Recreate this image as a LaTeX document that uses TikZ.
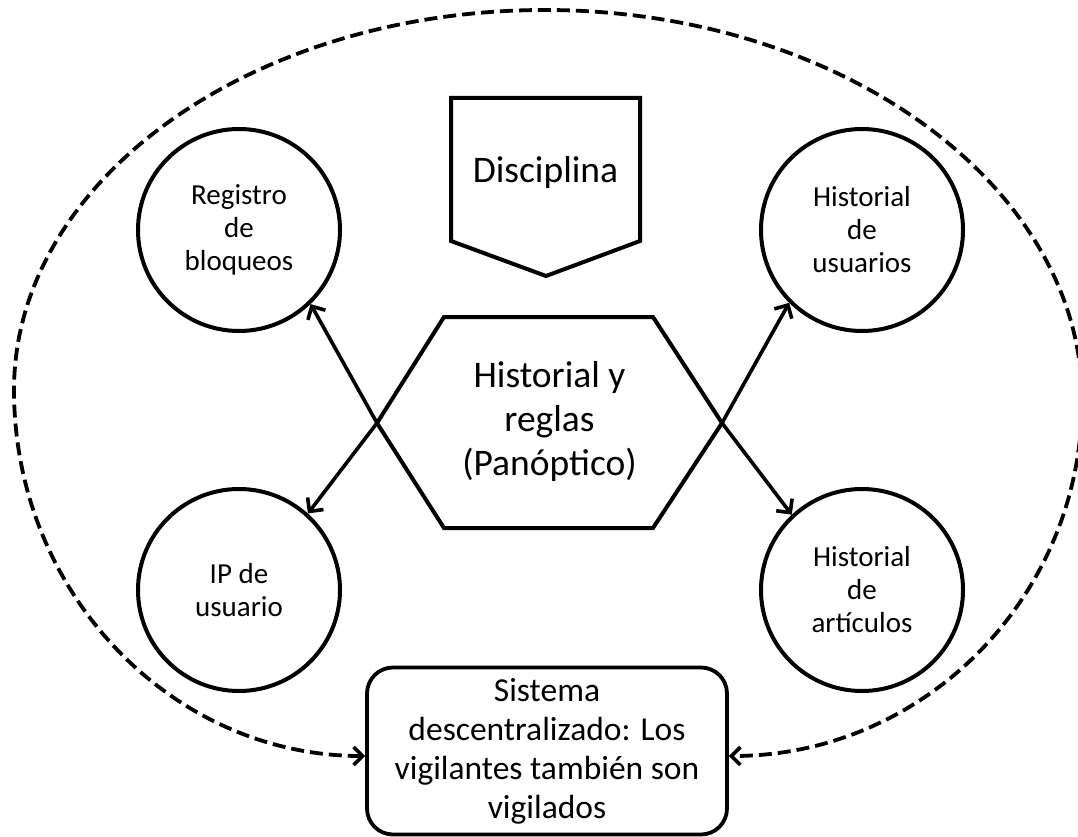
\documentclass[tikz,border=0pt]{standalone}
\usepackage{fontspec}
\setmainfont{Carlito}
\usetikzlibrary{arrows.meta,calc}
\begin{document}
\begin{tikzpicture}[x=1pt,y=-1pt,
  circ/.style={draw,circle,line width=4pt,minimum size=202pt,inner sep=0pt,align=center,
    font=\fontsize{29}{33}\selectfont},
  shapeline/.style={draw,line width=4pt,line join=miter},
  bigtext/.style={align=center,font=\fontsize{37.5}{44}\selectfont},
  boxnode/.style={draw,rectangle,rounded corners=26pt,line width=3.8pt,minimum width=360pt,
    minimum height=167pt,align=center,font=\fontsize{33.5}{39}\selectfont,inner sep=0pt},
  conn/.style={line width=3.6pt,-{Straight Barb[length=10pt,width=20pt,line width=3.6pt]}},
  dconn/.style={line width=3.8pt,dash pattern=on 13pt off 6pt,
    {Straight Barb[length=9pt,width=18pt,line width=3.6pt]}-{Straight Barb[length=9pt,width=18pt,line width=3.6pt]}}
]
\useasboundingbox (0,0) rectangle (1078,837);
\fill[white] (0,0) rectangle (1078,837);

% circles
\node[circ] (reg) at (239,230) {Registro\\de\\bloqueos};
\node[circ] (hu) at (862,230) {Historial\\de\\usuarios};
\node[circ] (ip) at (239,590) {IP de\\usuario};
\node[circ] (ha) at (862,590) {Historial\\de\\artículos};

% pentagon (Disciplina)
\coordinate (p1) at (451,98);
\coordinate (p2) at (640,98);
\coordinate (p3) at (640,241);
\coordinate (p4) at (546,276);
\coordinate (p5) at (451,241);
\draw[shapeline] (p1) -- (p2) -- (p3) -- (p4) -- (p5) -- cycle;
\node[bigtext] (disc) at (545.5,173) {Disciplina};

% hexagon
\coordinate (hL) at (377,423);
\coordinate (hTL) at (444,317);
\coordinate (hTR) at (653,317);
\coordinate (hR) at (722,423);
\coordinate (hBR) at (653,528);
\coordinate (hBL) at (444,528);
\draw[shapeline] (hL) -- (hTL) -- (hTR) -- (hR) -- (hBR) -- (hBL) -- cycle;
\node[bigtext] (hex) at (549.5,421) {Historial y\\reglas\\(Panóptico)};

% box
\node[boxnode] (box) at (547,751) {Sistema\\descentralizado: Los\\vigilantes también son\\vigilados};

% connectors
\draw[conn] (hL) -- (reg.-46);
\draw[conn] (hL) -- (ip.48);
\draw[conn] (hR) -- (hu.-135);
\draw[conn] (hR) -- (ha.133);

% dashed surrounding connector
\draw[dconn] ([yshift=-5pt]box.west)
  .. controls (171,756) and (14,592) .. (14,390)
  .. controls (14,180) and (252,10) .. (545,10)
  .. controls (841,10) and (1082,186) .. (1082,400)
  .. controls (1082,597) and (924,756) .. ([yshift=-5pt]box.east);
\end{tikzpicture}
\end{document}
